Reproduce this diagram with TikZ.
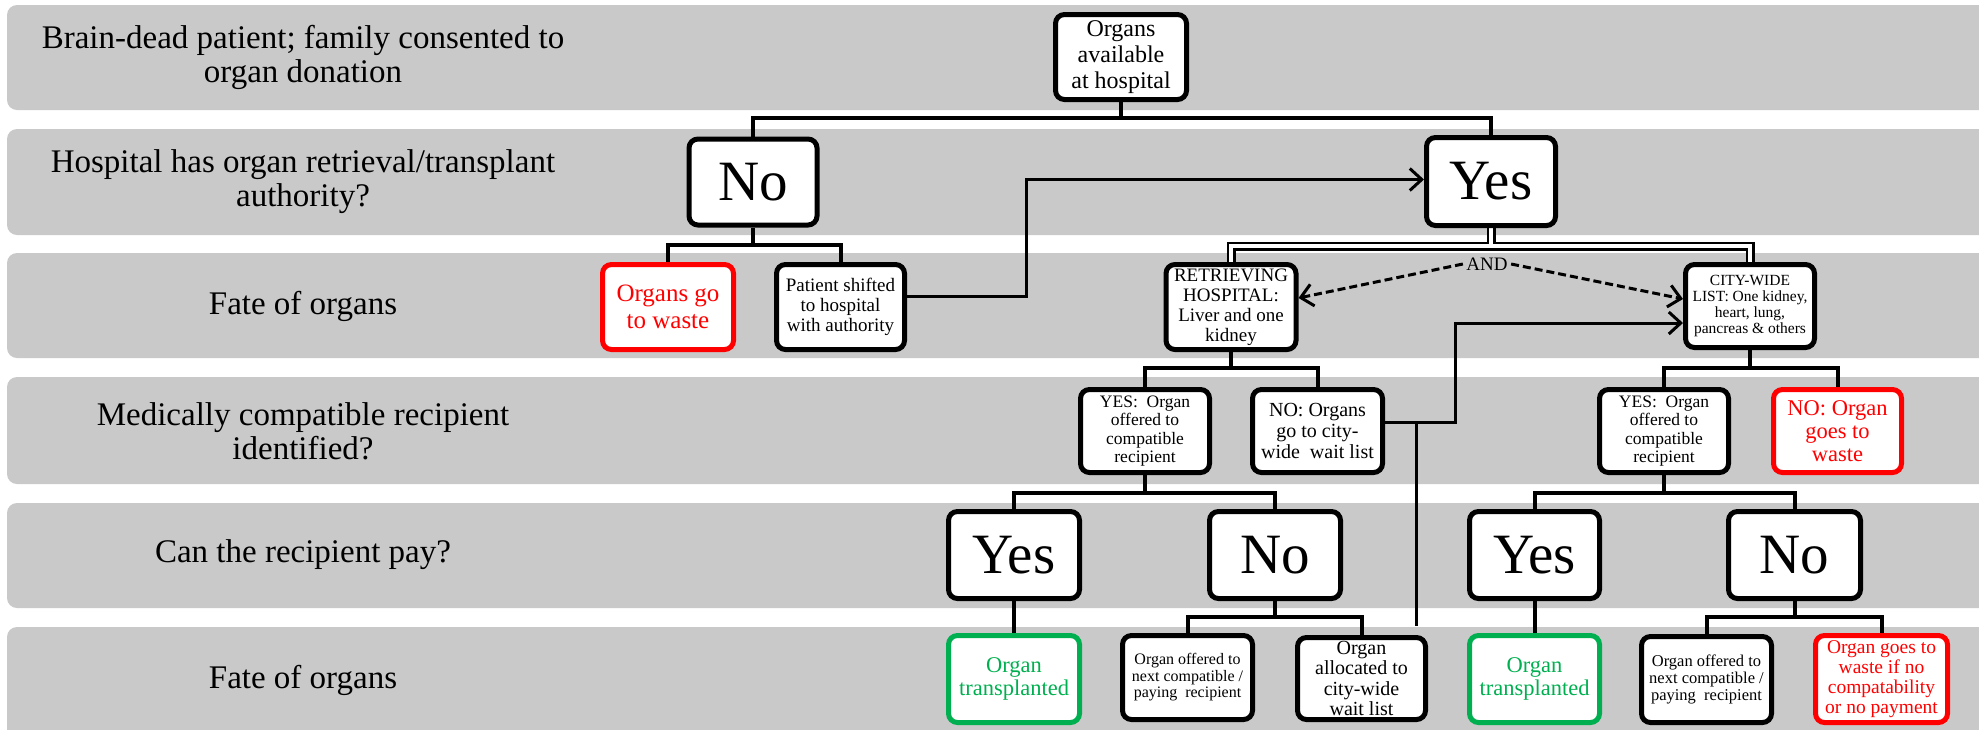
\documentclass[tikz,border=0pt]{standalone}
\usepackage{fontspec}
\setmainfont{Liberation Serif}
\newfontfamily\tnr{Liberation Serif}
\usetikzlibrary{arrows.meta,calc}
\definecolor{bandgray}{RGB}{201,201,201}
\definecolor{wred}{RGB}{255,0,0}
\definecolor{okgreen}{RGB}{0,176,80}
\newcommand{\fsz}[2]{\tnr\fontsize{#1}{#2}\selectfont}
\pgfdeclarelayer{bandlayer}
\pgfdeclarelayer{linelayer}
\pgfsetlayers{bandlayer,linelayer,main}
\begin{document}
\begin{tikzpicture}[x=1pt,y=-1pt,
  box/.style={draw=black, line width=5pt, rounded corners=9pt, fill=white, align=center, inner sep=0pt},
  redbox/.style={box, draw=wred, text=wred},
  greenbox/.style={box, draw=okgreen, text=okgreen},
  band/.style={fill=bandgray, rounded corners=10pt},
  lab/.style={align=center, font=\fsz{33}{34}},
  tree/.style={line width=4pt},
  link/.style={line width=3pt},
  tip/.style={-{Straight Barb[length=12pt,width=22pt]}},
  dbl/.style={line width=2.5pt, double=white, double distance=4pt},
  dashline/.style={line width=3pt, dash pattern=on 8pt off 4pt},
  big/.style={font=\fsz{57}{60}}
]
\useasboundingbox (0,0) rectangle (1979,729);

% bands
\begin{pgfonlayer}{bandlayer}
\fill[band] (7,5) rectangle (2000,110);
\fill[band] (7,129) rectangle (2000,235);
\fill[band] (7,253) rectangle (2000,358);
\fill[band] (7,377) rectangle (2000,484);
\fill[band] (7,503) rectangle (2000,608);
\fill[band] (7,627) rectangle (2000,745);
\end{pgfonlayer}

% row labels
\node[lab] (l1) at (303,57) {Brain-dead patient; family consented to\\organ donation};
\node[lab] (l2) at (303,182) {Hospital has organ retrieval/transplant\\authority?};
\node[lab] (l3) at (303,306) {Fate of organs};
\node[lab] (l4) at (303,431) {Medically compatible recipient\\identified?};
\node[lab] (l5) at (303,555) {Can the recipient pay?};
\node[lab] (l6) at (303,680) {Fate of organs};

% row 1
\node[box, minimum width=131pt, minimum height=85pt, font=\fsz{24}{26}] (avail) at (1121,57) {Organs\\available\\at hospital};
% row 2
\node[box, big, minimum width=128pt, minimum height=86pt] (no1) at (753,182) {No};
\node[box, big, minimum width=129pt, minimum height=88pt] (yes1) at (1491,181.5) {Yes};
% row 3
\node[redbox, minimum width=131pt, minimum height=85pt, font=\fsz{25}{27}] (waste1) at (668,307) {Organs go\\to waste};
\node[box, minimum width=128pt, minimum height=85pt, font=\fsz{19}{20}] (shift) at (840.5,307) {Patient shifted\\to hospital\\with authority};
\node[box, minimum width=130pt, minimum height=85pt, font=\fsz{19}{20}] (ret) at (1231,307) {RETRIEVING\\HOSPITAL:\\Liver and one\\kidney};
\node[box, minimum width=129pt, minimum height=83pt, font=\fsz{15.5}{16}] (city) at (1750,306) {CITY-WIDE\\LIST: One kidney,\\heart, lung,\\pancreas \& others};
\node[font=\fsz{19}{20}] (and) at (1487,264) {AND};
% row 4
\node[box, minimum width=129pt, minimum height=83pt, font=\fsz{17.5}{18.5}] (yesoff1) at (1145,431) {YES:~ Organ\\offered to\\compatible\\recipient};
\node[box, minimum width=130pt, minimum height=83pt, font=\fsz{20}{21}] (nocity) at (1317.5,431) {NO: Organs\\go to city-\\wide~ wait list};
\node[box, minimum width=129pt, minimum height=83pt, font=\fsz{17.5}{18.5}] (yesoff2) at (1664,431) {YES:~ Organ\\offered to\\compatible\\recipient};
\node[redbox, minimum width=128pt, minimum height=83pt, font=\fsz{22.5}{23}] (waste2) at (1837.5,431) {NO: Organ\\goes to\\waste};
% row 5
\node[box, big, minimum width=131pt, minimum height=87pt] (pyes1) at (1014,555) {Yes};
\node[box, big, minimum width=131pt, minimum height=87pt] (pno1) at (1275,555) {No};
\node[box, big, minimum width=130pt, minimum height=87pt] (pyes2) at (1534.5,555) {Yes};
\node[box, big, minimum width=132pt, minimum height=87pt] (pno2) at (1794.5,555) {No};
% row 6
\node[greenbox, minimum width=131pt, minimum height=87pt, font=\fsz{22.5}{23}] (trans1) at (1014,679) {Organ\\transplanted};
\node[box, minimum width=130pt, minimum height=84pt, font=\fsz{16}{16.5}] (next1) at (1187.5,677.5) {Organ offered to\\next compatible /\\paying~ recipient};
\node[box, minimum width=128pt, minimum height=82pt, font=\fsz{20}{20.5}] (alloc) at (1361.5,678.5) {Organ\\allocated to\\city-wide\\wait list};
\node[greenbox, minimum width=130pt, minimum height=87pt, font=\fsz{22.5}{23}] (trans2) at (1534.5,679) {Organ\\transplanted};
\node[box, minimum width=130pt, minimum height=86pt, font=\fsz{16.5}{17}] (next2) at (1706.5,679.5) {Organ offered to\\next compatible /\\paying~ recipient};
\node[redbox, minimum width=132pt, minimum height=87pt, font=\fsz{19.5}{20}] (waste3) at (1881.5,679) {Organ goes to\\waste if no\\compatability\\or no payment};

% bus levels
\coordinate (b1) at (0,118);
\coordinate (b2) at (0,245);
\coordinate (b3) at (0,246);
\coordinate (b4) at (0,368);
\coordinate (b5) at (0,493);
\coordinate (b6) at (0,617);

\begin{pgfonlayer}{linelayer}
% tree connectors
\draw[tree] (avail.south) -- (avail.south |- b1);
\draw[tree] (no1.north) |- (b1 -| yes1.north) -- (yes1.north);
\draw[tree] (no1.south) -- (no1.south |- b2);
\draw[tree] (waste1.north) |- (b2 -| shift.north) -- (shift.north);
\draw[dbl] (yes1.south) -- (yes1.south |- b3) (ret.north) |- (b3 -| city.north) -- (city.north);
\draw[tree] (ret.south) -- (ret.south |- b4);
\draw[tree] (yesoff1.north) |- (b4 -| nocity.north) -- (nocity.north);
\draw[tree] (city.south) -- (city.south |- b4);
\draw[tree] (yesoff2.north) |- (b4 -| waste2.north) -- (waste2.north);
\draw[tree] (yesoff1.south) -- (yesoff1.south |- b5);
\draw[tree] (pyes1.north) |- (b5 -| pno1.north) -- (pno1.north);
\draw[tree] (yesoff2.south) -- (yesoff2.south |- b5);
\draw[tree] (pyes2.north) |- (b5 -| pno2.north) -- (pno2.north);
\draw[tree] (pyes1.south) -- (trans1.north);
\draw[tree] (pyes2.south) -- (trans2.north);
\draw[tree] (pno1.south) -- (pno1.south |- b6);
\draw[tree] (next1.north) |- (b6 -| alloc.north) -- (alloc.north);
\draw[tree] (pno2.south) -- (pno2.south |- b6);
\draw[tree] (next2.north) |- (b6 -| waste3.north) -- (waste3.north);
% long links
\draw[link, tip] ([yshift=11pt]shift.east) -- ++(119,0) |- ([yshift=2pt]yes1.west);
\draw[link, tip] ([yshift=9pt]nocity.east) -- ++(70,0) |- ([yshift=-17pt]city.west);
\draw[link] ([xshift=31pt,yshift=9pt]nocity.east) -- ([xshift=31pt,yshift=9pt]nocity.east |- alloc.north);
% AND dashed arrows
\draw[dashline, tip] (and.west) -- ([yshift=9pt]ret.east);
\draw[dashline, tip] (and.east) -- ([yshift=7pt]city.west);
\end{pgfonlayer}
\end{tikzpicture}
\end{document}
